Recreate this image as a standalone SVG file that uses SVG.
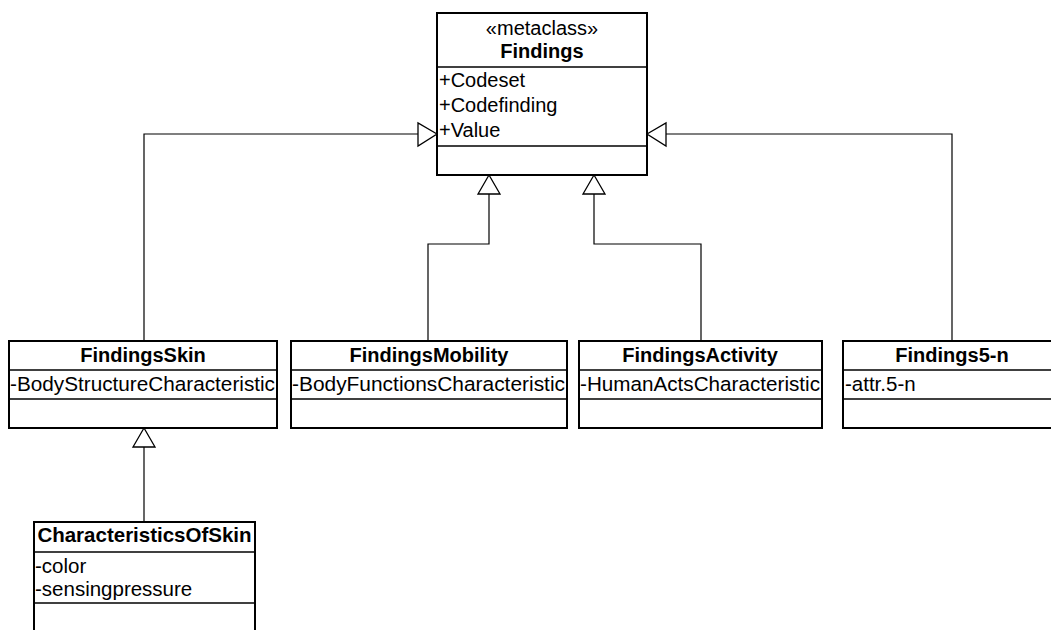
<svg xmlns="http://www.w3.org/2000/svg" width="1051" height="630" viewBox="0 0 1051 630">
<style>
.box{fill:#fff;stroke:#000;stroke-width:2}
.div{stroke:#000;stroke-width:1.5}
.t{font-family:"Liberation Sans",Arial,sans-serif;font-size:20px;fill:#000}
.a{font-size:20.5px}
.b{font-weight:bold;text-anchor:middle}
.c{text-anchor:middle}
.con{fill:none;stroke:#000;stroke-width:1.2}
.tri{fill:#fff;stroke:#000;stroke-width:1.3}
</style>
<rect width="1051" height="630" fill="#fff"/>
<g id="connectors">
<polyline class="con" points="144,341 144,134 418,134"/>
<polygon class="tri" points="437,134 418,123 418,146"/>
<polyline class="con" points="952,341 952,134 666,134"/>
<polygon class="tri" points="647,134 666,123 666,146"/>
<polyline class="con" points="428,341 428,244 489,244 489,194"/>
<polygon class="tri" points="489,175 478,194 500,194"/>
<polyline class="con" points="701,341 701,244 594,244 594,194"/>
<polygon class="tri" points="594,175 583,194 605,194"/>
<polyline class="con" points="144,522 144,447"/>
<polygon class="tri" points="144,428 133,447 155,447"/>
</g>
<g id="findings">
<rect class="box" x="437" y="13" width="210" height="162"/>
<line class="div" x1="437" y1="67" x2="647" y2="67"/>
<line class="div" x1="437" y1="146" x2="647" y2="146"/>
<text class="t c" x="542" y="35">«metaclass»</text>
<text class="t b" x="542" y="58">Findings</text>
<text class="t" x="439" y="87">+Codeset</text>
<text class="t" x="439" y="112">+Codefinding</text>
<text class="t" x="439" y="137">+Value</text>
</g>
<g id="findingsSkin">
<rect class="box" x="9" y="341" width="268" height="87"/>
<line class="div" x1="9" y1="370" x2="277" y2="370"/>
<line class="div" x1="9" y1="399" x2="277" y2="399"/>
<text class="t b" x="143" y="362">FindingsSkin</text>
<text class="t a" x="10" y="391" textLength="265" lengthAdjust="spacingAndGlyphs">-BodyStructureCharacteristic</text>
</g>
<g id="findingsMobility">
<rect class="box" x="291" y="341" width="276" height="87"/>
<line class="div" x1="291" y1="370" x2="567" y2="370"/>
<line class="div" x1="291" y1="399" x2="567" y2="399"/>
<text class="t b" x="429" y="362">FindingsMobility</text>
<text class="t a" x="292" y="391" textLength="273" lengthAdjust="spacingAndGlyphs">-BodyFunctionsCharacteristic</text>
</g>
<g id="findingsActivity">
<rect class="box" x="579" y="341" width="243" height="87"/>
<line class="div" x1="579" y1="370" x2="822" y2="370"/>
<line class="div" x1="579" y1="399" x2="822" y2="399"/>
<text class="t b" x="700" y="362">FindingsActivity</text>
<text class="t a" x="580" y="391" textLength="240" lengthAdjust="spacingAndGlyphs">-HumanActsCharacteristic</text>
</g>
<g id="findings5n">
<rect class="box" x="843" y="341" width="220" height="87"/>
<line class="div" x1="843" y1="370" x2="1063" y2="370"/>
<line class="div" x1="843" y1="399" x2="1063" y2="399"/>
<text class="t b" x="952" y="362">Findings5-n</text>
<text class="t a" x="845" y="391">-attr.5-n</text>
</g>
<g id="characteristicsOfSkin">
<rect class="box" x="34" y="522" width="221" height="120"/>
<line class="div" x1="34" y1="552" x2="255" y2="552"/>
<line class="div" x1="34" y1="603" x2="255" y2="603"/>
<text class="t b" x="144.5" y="542" style="font-size:20.5px">CharacteristicsOfSkin</text>
<text class="t a" x="35" y="573">-color</text>
<text class="t a" x="35" y="596">-sensingpressure</text>
</g>
</svg>
